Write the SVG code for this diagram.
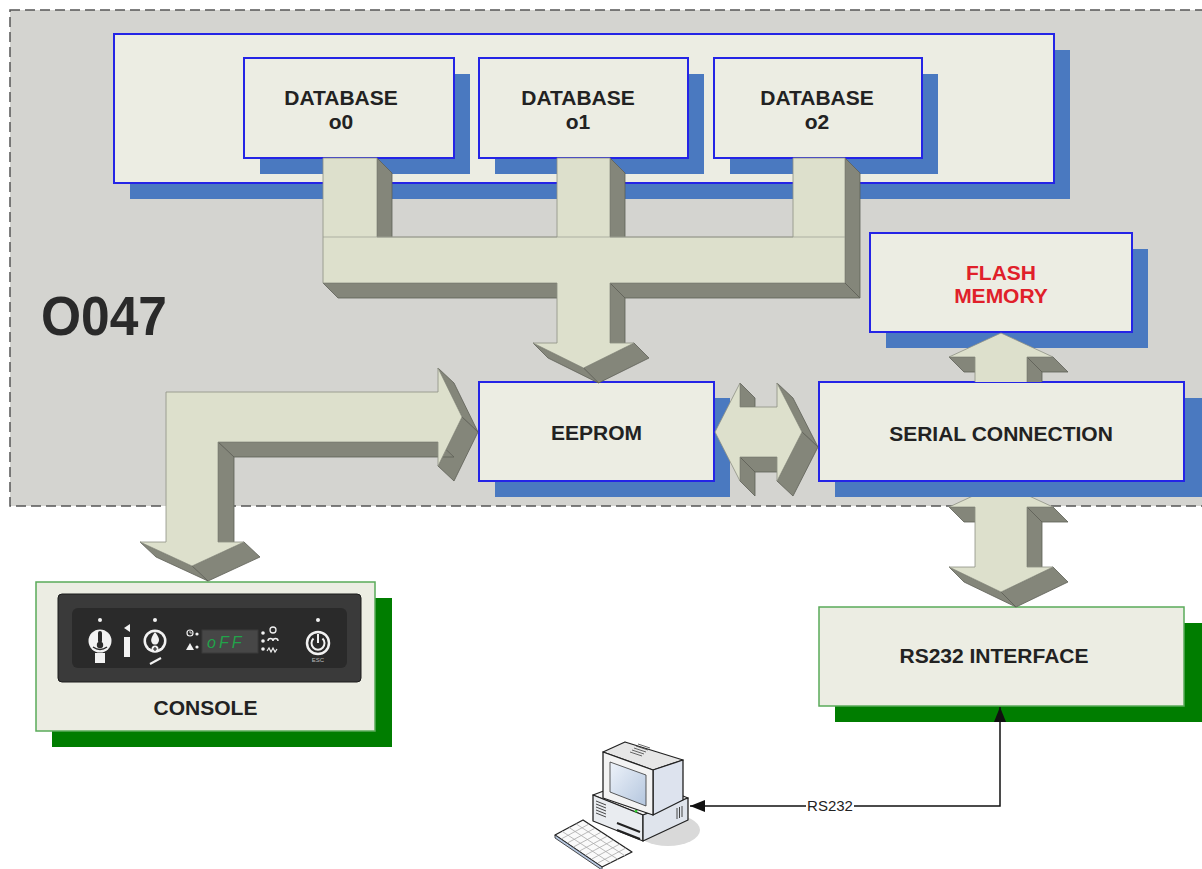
<svg xmlns="http://www.w3.org/2000/svg" width="1202" height="869" viewBox="0 0 1202 869">
<defs>
<style>
.bx{fill:#ecede3;stroke:#2424e6;stroke-width:2}
.bsh{fill:#4a79c0}
.gbx{fill:#ecede3;stroke:#5aab5a;stroke-width:1.5}
.gsh{fill:#007d00}
.lbl{font-family:"Liberation Sans",Arial,sans-serif;font-weight:bold;font-size:21px;fill:#222;text-anchor:middle}
.fr{fill:#dde0cc;stroke:#8e9084;stroke-width:0.8;stroke-linejoin:round}
.dk{fill:#84867a;stroke:#5e6057;stroke-width:0.8;stroke-linejoin:round}
.wh{fill:#f2f2f2}
.ln{stroke:#222;stroke-width:1.3;stroke-linejoin:round}
</style>
<marker id="ah" viewBox="0 0 15 12" refX="15" refY="6" markerWidth="15" markerHeight="12" markerUnits="userSpaceOnUse" orient="auto-start-reverse">
<path d="M0,0 L15,6 L0,12 Z" fill="#111"/>
</marker>
<clipPath id="belowSerial"><rect x="900" y="497" width="220" height="200"/></clipPath>
<clipPath id="aboveSerial"><rect x="900" y="300" width="220" height="82"/></clipPath>
<linearGradient id="scr" x1="0" y1="0" x2="1" y2="1">
<stop offset="0" stop-color="#eef3fa"/><stop offset="1" stop-color="#b4c6de"/>
</linearGradient>
</defs>

<rect x="0" y="0" width="1202" height="869" fill="#ffffff"/>

<!-- controller area -->
<g id="o047">
<rect x="10" y="10" width="1200" height="496" fill="#d4d4d0" stroke="#555" stroke-width="1.5" stroke-dasharray="10 5"/>
<text x="41" y="335" font-family="'Liberation Sans',Arial,sans-serif" font-weight="bold" font-size="56" fill="#2a2a2a" textLength="126" lengthAdjust="spacingAndGlyphs">O047</text>
</g>

<!-- database bank -->
<g id="database-bank">
<rect class="bsh" x="130" y="50" width="940" height="149"/>
<rect class="bx" x="114" y="34" width="940" height="149"/>
</g>
<g id="database-o0">
<rect class="bsh" x="260" y="74" width="210" height="100"/>
<rect class="bx" x="244" y="58" width="210" height="100"/>
<text class="lbl" x="341" y="104.5">DATABASE</text>
<text class="lbl" x="341" y="128.5">o0</text>
</g>
<g id="database-o1">
<rect class="bsh" x="495" y="74" width="209" height="100"/>
<rect class="bx" x="479" y="58" width="209" height="100"/>
<text class="lbl" x="578" y="104.5">DATABASE</text>
<text class="lbl" x="578" y="128.5">o1</text>
</g>
<g id="database-o2">
<rect class="bsh" x="730" y="74" width="208" height="100"/>
<rect class="bx" x="714" y="58" width="208" height="100"/>
<text class="lbl" x="817" y="104.5">DATABASE</text>
<text class="lbl" x="817" y="128.5">o2</text>
</g>

<g id="flash-memory">
<rect class="bsh" x="886" y="249" width="262" height="99"/>
<rect class="bx" x="870" y="233" width="262" height="99"/>
<text class="lbl" x="1001" y="279.5" style="fill:#e0202a">FLASH</text>
<text class="lbl" x="1001" y="302.5" style="fill:#e0202a">MEMORY</text>
</g>

<g id="eeprom">
<rect class="bsh" x="495" y="398" width="235" height="99"/>
<rect class="bx" x="479" y="382" width="235" height="99"/>
<text class="lbl" x="596.5" y="439.5">EEPROM</text>
</g>

<g id="serial-connection">
<rect class="bsh" x="835" y="398" width="367" height="99"/>
<rect class="bx" x="819" y="382" width="365" height="99"/>
<text class="lbl" x="1001" y="440.5">SERIAL CONNECTION</text>
</g>

<g id="console">
<rect class="gsh" x="52" y="598" width="340" height="149"/>
<rect class="gbx" x="36" y="582" width="339" height="149"/>
<rect x="58" y="594" width="303" height="88" rx="4" fill="#3a3a3a" stroke="#1c1c1c"/>
<rect x="72" y="608" width="275" height="60" rx="6" fill="#2a2a2a"/>
<circle class="wh" cx="100" cy="620" r="2"/>
<circle class="wh" cx="155" cy="620" r="2"/>
<circle class="wh" cx="318" cy="620" r="2"/>
<!-- temperature key -->
<circle class="wh" cx="100" cy="641" r="11.5"/>
<rect x="98" y="631" width="4" height="12" rx="2" fill="#2a2a2a"/>
<circle cx="100" cy="645" r="3.2" fill="#2a2a2a"/>
<path d="M93,647 Q100,652 107,647" fill="none" stroke="#2a2a2a" stroke-width="1.5"/>
<rect class="wh" x="95" y="653" width="10" height="10"/>
<!-- info key -->
<polygon class="wh" points="124,628 130,624 130,632"/>
<rect class="wh" x="124" y="637" width="6" height="20"/>
<!-- flame key -->
<circle class="wh" cx="155" cy="641" r="11.5"/>
<circle cx="155" cy="641" r="9" fill="#2a2a2a"/>
<path class="wh" d="M155,632 C159,637 160,640 158,643 C157,645 153,645 152,643 C150,640 152,636 155,632 Z"/>
<circle class="wh" cx="155" cy="649" r="3.5"/>
<path d="M153,649 H157 M155,647 V651" stroke="#2a2a2a" stroke-width="1.2"/>
<line x1="150" y1="664" x2="161" y2="658" stroke="#f2f2f2" stroke-width="2"/>
<!-- status symbols -->
<circle cx="190" cy="633" r="3" fill="none" stroke="#eee" stroke-width="1.2"/>
<path d="M190,631 V633 H192" fill="none" stroke="#eee" stroke-width="0.8"/>
<circle class="wh" cx="197" cy="634" r="1.6"/>
<polygon class="wh" points="186,650 190,643 194,650"/>
<circle class="wh" cx="197" cy="647" r="1.6"/>
<!-- display -->
<rect x="202" y="630" width="56" height="23" fill="#474747" stroke="#3a3a3a"/>
<text x="207" y="648" font-family="'Liberation Sans',Arial,sans-serif" font-style="italic" font-size="16" fill="#22a34a" letter-spacing="3">oFF</text>
<circle class="wh" cx="263" cy="633" r="1.8"/>
<circle class="wh" cx="263" cy="641" r="1.8"/>
<circle class="wh" cx="263" cy="649" r="1.8"/>
<circle cx="273" cy="630" r="3" fill="none" stroke="#eee" stroke-width="1.3"/>
<path d="M268,641 a2.5,2.5 0 1 1 5,0 a2.5,2.5 0 1 1 5,0" fill="none" stroke="#eee" stroke-width="1.5"/>
<path d="M267,651 l2,-3 l2,4 l2,-4 l2,4 l2,-3" fill="none" stroke="#eee" stroke-width="1.2"/>
<!-- power key -->
<circle cx="318" cy="643" r="11" fill="none" stroke="#f2f2f2" stroke-width="2.5"/>
<path d="M313.5,638.5 A6.5,6.5 0 1 0 322.5,638.5" fill="none" stroke="#f2f2f2" stroke-width="2"/>
<line x1="318" y1="634" x2="318" y2="643" stroke="#f2f2f2" stroke-width="2"/>
<text x="318" y="662" font-family="'Liberation Sans',Arial,sans-serif" font-size="6" fill="#bbb" text-anchor="middle">ESC</text>
<text class="lbl" x="205.5" y="715">CONSOLE</text>
</g>

<g id="rs232-interface">
<rect class="gsh" x="835" y="623" width="367" height="99"/>
<rect class="gbx" x="819" y="607" width="365" height="99"/>
<text class="lbl" x="994" y="663">RS232 INTERFACE</text>
</g>

<g id="computer">
<ellipse cx="668" cy="830" rx="32" ry="16" fill="#d9d9d9"/>
<polygon class="ln" points="593,795 643,815 688,798 638,778" fill="#f4f4f4"/>
<polygon class="ln" points="593,795 643,815 643,841 593,821" fill="#e9ecf0"/>
<polygon class="ln" points="643,815 688,798 688,820 643,841" fill="#dfe4ec"/>
<path d="M596,801 l10,4 M596,804 l10,4 M596,807 l10,4 M596,810 l10,4 M596,813 l10,4" stroke="#333" stroke-width="0.9"/>
<path d="M617,823 L640,832 M617,830 L640,839" stroke="#222" stroke-width="2"/>
<path d="M677,808 v11 M679.5,807 v11 M682,806 v11" stroke="#333" stroke-width="0.9"/>
<circle cx="636" cy="811" r="1.5" fill="#3c3"/>
<polygon class="ln" points="603,752 625,742 683,760 653,770" fill="#e6e6e6"/>
<path d="M634,748 l12,4 M632,750 l12,4 M630,752 l12,4 M636,746 l12,4 M638,744 l12,4" stroke="#444" stroke-width="0.8"/>
<polygon class="ln" points="653,770 683,760 683,800 653,815" fill="#dde3ee"/>
<polygon class="ln" points="603,752 653,770 653,815 603,798" fill="#f3f3f3"/>
<polygon points="610,762 646,775 646,806 610,792" fill="url(#scr)" stroke="#333" stroke-width="0.8"/>
<polygon class="ln" points="555,835 583,820 632,852 602,867" fill="#fafafa"/>
<polygon points="555,835 602,867 602,870 555,838" fill="#b8c8e0" stroke="#222" stroke-width="0.8"/>
<path d="M562,831.3 L611,863.3 M569,827.5 L618,859.5 M576,823.8 L625,855.8 M561.1,839 l28,-15 M567.3,843 l28,-15 M573.4,847 l28,-15 M579.5,851 l28,-15 M585.6,855 l28,-15 M591.8,859 l28,-15 M597.9,863 l28,-15" stroke="#aaa" stroke-width="0.8"/>
</g>

<g id="connectors">
<!-- database bus into EEPROM -->
<g id="bus-db-eeprom">
<polygon class="dk" points="377,158 392,173 392,252 377,237"/>
<polygon class="dk" points="610,158 625,173 625,252 610,237"/>
<polygon class="dk" points="845,158 860,173 860,298 845,283"/>
<polygon class="dk" points="323,283 557,283 572,298 338,298"/>
<polygon class="dk" points="610,283 845,283 860,298 625,298"/>
<polygon class="dk" points="610,283 625,298 625,358 610,343"/>
<polygon class="dk" points="634,343 649,358 598.5,383 583.5,368"/>
<polygon class="dk" points="583.5,368 598.5,383 548,358 533,343"/>
<polygon class="fr" points="323,158 377,158 377,237 557,237 557,158 610,158 610,237 793,237 793,158 845,158 845,283 610,283 610,343 634,343 583.5,368 533,343 557,343 557,283 323,283"/>
<path d="M323,237 H845" stroke="#9a9c90" stroke-width="0.7"/>
</g>
<!-- EEPROM to console -->
<g id="bus-eeprom-console">
<polygon class="dk" points="438,368 462,417 478,432 454,383"/>
<polygon class="dk" points="462,417 438,466 454,481 478,432"/>
<polygon class="dk" points="218,442 438,442 454,457 234,457"/>
<polygon class="dk" points="218,442 234,457 234,557 218,542"/>
<polygon class="dk" points="244,542 260,557 208,581 192,566"/>
<polygon class="dk" points="192,566 208,581 156,557 140,542"/>
<polygon class="fr" points="166,392 438,392 438,368 462,417 438,466 438,442 218,442 218,542 244,542 192,566 140,542 166,542"/>
</g>
<!-- EEPROM to serial connection -->
<g id="bus-eeprom-serial">
<polygon class="dk" points="740,383 755,398 755,407 740,407"/>
<polygon class="dk" points="740,457 777,457 792,472 755,472"/>
<polygon class="dk" points="740,457 740,481 755,496 755,472"/>
<polygon class="dk" points="777,383 802,432 818,447 793,398"/>
<polygon class="dk" points="802,432 777,481 793,496 818,447"/>
<polygon class="fr" points="715,432 740,383 740,407 777,407 777,383 802,432 777,481 777,457 740,457 740,481"/>
</g>
<!-- serial connection to flash memory -->
<g id="bus-serial-flash" clip-path="url(#aboveSerial)">
<polygon class="dk" points="1027,357 1053,357 1068,372 1042,372"/>
<polygon class="dk" points="1027,357 1042,372 1042,415 1027,400"/>
<polygon class="dk" points="949,357 975,357 990,372 964,372"/>
<polygon class="fr" points="1001,333 1053,357 1027,357 1027,400 975,400 975,357 949,357"/>
</g>
<!-- serial connection to RS232 interface -->
<g id="bus-serial-rs232" clip-path="url(#belowSerial)">
<polygon class="dk" points="1027,507 1053,507 1068,522 1042,522"/>
<polygon class="dk" points="1027,507 1042,522 1042,582 1027,567"/>
<polygon class="dk" points="1053,567 1068,582 1016,607 1001,592"/>
<polygon class="dk" points="1001,592 1016,607 964,582 949,567"/>
<polygon class="dk" points="949,507 975,507 990,522 964,522"/>
<polygon class="fr" points="1001,483 1053,507 1027,507 1027,567 1053,567 1001,592 949,567 975,567 975,507 949,507"/>
</g>
<!-- RS232 cable to the PC -->
<g id="cable-rs232">
<path d="M1000,707 V806 H690" fill="none" stroke="#111" stroke-width="1.5" marker-start="url(#ah)" marker-end="url(#ah)"/>
<rect x="806" y="798" width="48" height="16" fill="#ffffff"/>
<text x="830" y="811" font-family="'Liberation Sans',Arial,sans-serif" font-size="15" fill="#222" text-anchor="middle">RS232</text>
</g>
</g>
</svg>
